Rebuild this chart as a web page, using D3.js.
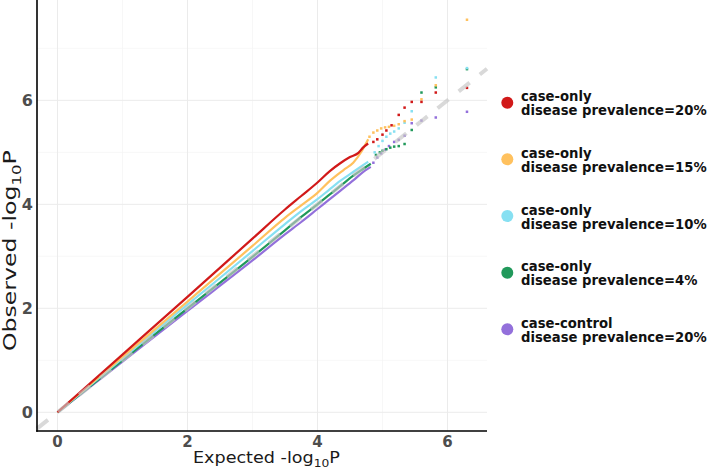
<!DOCTYPE html>
<html>
<head>
<meta charset="utf-8">
<script src="https://cdn.jsdelivr.net/npm/d3@7"></script>
<style>
  html, body { margin: 0; padding: 0; background: #fff; }
  svg { display: block; font-family: "DejaVu Sans", sans-serif; }
</style>
</head>
<body>
<div id="chart"></div>
<script>
// Series (expected vs observed -log10 P)
const seriesNames = ['case-only|disease prevalence=20%', 'case-only|disease prevalence=15%',
  'case-only|disease prevalence=10%', 'case-only|disease prevalence=4%', 'case-control|disease prevalence=20%'];
const seriesColors = ['#d11919', '#ffc15e', '#87e0f2', '#21995b', '#9370db'];

// dense part of each curve
const redX = [0, 1, 2, 3, 3.5, 3.75, 4, 4.19, 4.35, 4.5, 4.63, 4.7, 4.78];
const redY = [0, 1.11, 2.22, 3.34, 3.90, 4.16, 4.42, 4.64, 4.79, 4.91, 4.99, 5.09, 5.17];
const orangeX = [0, 1, 2, 3, 3.5, 3.75, 4, 4.19, 4.4, 4.55, 4.68, 4.78];
const orangeY = [0, 1.065, 2.13, 3.20, 3.74, 3.98, 4.22, 4.45, 4.66, 4.80, 5.02, 5.25];
const blueX = [0, 1, 2, 3, 3.5, 3.75, 4, 4.17, 4.35, 4.5, 4.65, 4.78];
const blueY = [0, 1.035, 2.07, 3.10, 3.62, 3.87, 4.10, 4.27, 4.45, 4.58, 4.71, 4.82];
const greenX = [0, 1, 2, 3, 3.5, 3.75, 4, 4.17, 4.35, 4.55, 4.7, 4.82];
const greenY = [0, 1.0, 2.0, 2.99, 3.50, 3.76, 4.00, 4.17, 4.35, 4.55, 4.68, 4.78];
const purpleX = [0, 1, 2, 3, 3.5, 3.75, 4, 4.17, 4.35, 4.55, 4.7, 4.82];
const purpleY = [0, 0.975, 1.95, 2.92, 3.42, 3.66, 3.91, 4.08, 4.26, 4.46, 4.62, 4.72];

// sparse tail points
const redTailX = [4.86, 4.92, 5.0, 5.06, 5.14, 5.25, 5.34, 5.45, 5.60, 5.82, 6.30];
const redTailY = [5.20, 5.25, 5.34, 5.42, 5.52, 5.72, 5.86, 5.97, 5.97, 6.15, 6.24];
const orangeTailX = [4.80, 4.86, 4.92, 4.98, 5.04, 5.10, 5.18, 5.25, 5.34, 5.45, 5.60, 5.82, 6.30];
const orangeTailY = [5.30, 5.38, 5.42, 5.46, 5.48, 5.49, 5.51, 5.54, 5.60, 5.63, 6.02, 6.29, 7.55];
const blueTailX = [4.88, 4.94, 5.0, 5.06, 5.12, 5.18, 5.25, 5.34, 5.45, 5.82, 6.30];
const blueTailY = [5.00, 5.12, 5.22, 5.30, 5.36, 5.40, 5.46, 5.57, 5.79, 6.44, 6.62];
const greenTailX = [4.90, 4.96, 5.0, 5.06, 5.12, 5.18, 5.25, 5.34, 5.45, 5.60, 5.82, 6.30];
const greenTailY = [4.95, 5.00, 5.03, 5.06, 5.09, 5.11, 5.12, 5.16, 5.43, 6.15, 6.25, 6.60];
const purpleTailX = [4.86, 4.92, 4.98, 5.04, 5.10, 5.18, 5.25, 5.34, 5.45, 5.60, 5.82, 6.30];
const purpleTailY = [4.80, 4.90, 4.98, 5.05, 5.12, 5.20, 5.24, 5.32, 5.56, 5.61, 5.67, 5.78];

const xTicks = [0, 2, 4, 6];
const yTicks = [0, 2, 4, 6];
const xMinor = [1, 3, 5];
const yMinor = [1, 3, 5, 7];

const W = 708, H = 469;
const panel = { left: 37, right: 487, top: 0, bottom: 431 };

const svg = d3.select('#chart').append('svg')
  .attr('width', W)
  .attr('height', H);

const x = d3.scaleLinear().domain([-0.315, 6.608]).range([panel.left, panel.right]);
const y = d3.scaleLinear().domain([-0.36, 7.93]).range([panel.bottom, panel.top]);

// grid
const grid = svg.append('g');
grid.selectAll('.vminor').data(xMinor).enter().append('line')
  .attr('x1', d => x(d)).attr('x2', d => x(d))
  .attr('y1', panel.top).attr('y2', panel.bottom)
  .attr('stroke', '#f4f4f4').attr('stroke-width', 0.7);
grid.selectAll('.hminor').data(yMinor).enter().append('line')
  .attr('y1', d => y(d)).attr('y2', d => y(d))
  .attr('x1', panel.left).attr('x2', panel.right)
  .attr('stroke', '#f4f4f4').attr('stroke-width', 0.7);
grid.selectAll('.vmajor').data(xTicks).enter().append('line')
  .attr('x1', d => x(d)).attr('x2', d => x(d))
  .attr('y1', panel.top).attr('y2', panel.bottom)
  .attr('stroke', '#ebebeb').attr('stroke-width', 1);
grid.selectAll('.hmajor').data(yTicks).enter().append('line')
  .attr('y1', d => y(d)).attr('y2', d => y(d))
  .attr('x1', panel.left).attr('x2', panel.right)
  .attr('stroke', '#ebebeb').attr('stroke-width', 1);

// series, purple first so red ends on top
const dense = [[redX, redY], [orangeX, orangeY], [blueX, blueY], [greenX, greenY], [purpleX, purpleY]];
const tails = [[redTailX, redTailY], [orangeTailX, orangeTailY], [blueTailX, blueTailY],
  [greenTailX, greenTailY], [purpleTailX, purpleTailY]];

const line = d3.line().x(d => x(d[0])).y(d => y(d[1])).curve(d3.curveMonotoneX);
const plot = svg.append('g');

for (let i = dense.length - 1; i >= 0; i--) {
  const pts = dense[i][0].map((v, j) => [v, dense[i][1][j]]);
  plot.append('path')
    .datum(pts)
    .attr('d', line)
    .attr('fill', 'none')
    .attr('stroke', seriesColors[i])
    .attr('stroke-width', 2.2)
    .attr('stroke-linejoin', 'round');
}
for (let i = tails.length - 1; i >= 0; i--) {
  const pts = tails[i][0].map((v, j) => [v, tails[i][1][j]]);
  plot.append('g').selectAll('rect')
    .data(pts)
    .enter().append('rect')
    .attr('x', d => x(d[0]) - 1.25)
    .attr('y', d => y(d[1]) - 1.25)
    .attr('width', 2.5)
    .attr('height', 2.5)
    .attr('fill', seriesColors[i]);
}

// y = x reference, dashed grey over the curves
const ref = x.domain();
plot.append('line')
  .attr('x1', x(ref[0])).attr('y1', y(ref[0]))
  .attr('x2', x(ref[1])).attr('y2', y(ref[1]))
  .attr('stroke', '#c4c4c4')
  .attr('stroke-opacity', 0.65)
  .attr('stroke-width', 4)
  .attr('stroke-dasharray', '14,13');

// axis lines
svg.append('line')
  .attr('x1', panel.left).attr('x2', panel.left)
  .attr('y1', panel.top).attr('y2', panel.bottom + 0.8)
  .attr('stroke', '#000').attr('stroke-width', 1.6);
svg.append('line')
  .attr('x1', panel.left - 0.8).attr('x2', panel.right)
  .attr('y1', panel.bottom).attr('y2', panel.bottom)
  .attr('stroke', '#000').attr('stroke-width', 1.6);

// tick labels
svg.append('g').selectAll('text')
  .data(xTicks).enter().append('text')
  .attr('x', d => x(d))
  .attr('y', 447.3)
  .attr('text-anchor', 'middle')
  .attr('font-size', '15px')
  .attr('font-weight', 'bold')
  .attr('fill', '#4d4d4d')
  .text(d => d);
svg.append('g').selectAll('text')
  .data(yTicks).enter().append('text')
  .attr('x', 32.8)
  .attr('y', d => y(d) + 5.8)
  .attr('text-anchor', 'end')
  .attr('font-size', '16px')
  .attr('font-weight', 'bold')
  .attr('fill', '#4d4d4d')
  .text(d => d);

// axis titles with subscript, stretched to the measured widths
function axisTitle(word, size) {
  const t = svg.append('text')
    .attr('font-size', size + 'px')
    .attr('fill', '#1a1a1a');
  t.append('tspan').text(word + ' -log');
  t.append('tspan').attr('font-size', (size * 0.7) + 'px').attr('dy', size * 0.28).text('10');
  t.append('tspan').attr('dy', -size * 0.28).text('P');
  return t;
}

const xTitle = axisTitle('Expected', 15.5);
const xw = xTitle.node().getBBox().width;
xTitle.attr('transform', `translate(193,463) scale(${147 / xw},1)`);

const yTitle = axisTitle('Observed', 18);
const yw = yTitle.node().getBBox().width;
yTitle.attr('transform', `translate(15.5,351) rotate(-90) scale(${201 / yw},1)`);

// legend
const legendY = [102.7, 159.3, 216, 272.7, 329.3];
const legend = svg.append('g').selectAll('g')
  .data(seriesNames).enter().append('g')
  .attr('transform', (d, i) => `translate(0,${legendY[i]})`);
legend.append('circle')
  .attr('cx', 507.3).attr('cy', 0).attr('r', 6)
  .attr('fill', (d, i) => seriesColors[i]);
legend.append('text')
  .attr('x', 521)
  .attr('y', -1.5)
  .attr('font-size', '13.2px')
  .attr('font-weight', 'bold')
  .attr('fill', '#111')
  .text(d => d.split('|')[0]);
legend.append('text')
  .attr('x', 521)
  .attr('y', 12.5)
  .attr('font-size', '13.2px')
  .attr('font-weight', 'bold')
  .attr('fill', '#111')
  .text(d => d.split('|')[1]);
</script>
</body>
</html>
